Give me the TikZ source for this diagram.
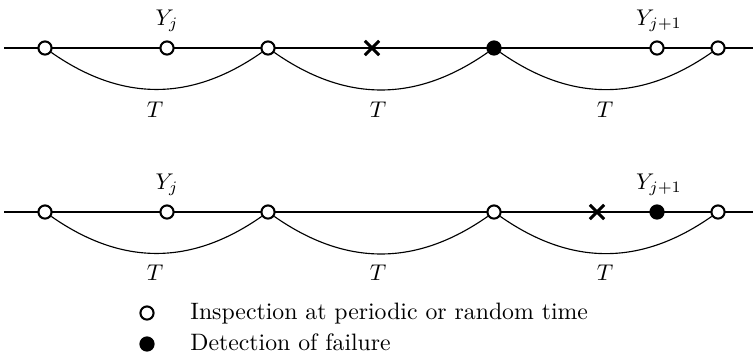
\documentclass[tikz,border=0pt]{standalone}
\usetikzlibrary{shapes.misc}
\tikzset{axis/.style={line width=1pt},span/.style={line width=.5pt},insp/.style={circle,draw,fill=white,line width=.9pt,inner sep=0pt,minimum size=5.8pt},detect/.style={insp,fill=black},fail/.style={cross out,draw,line width=1.3pt,inner sep=0pt,minimum size=5pt}}
\begin{document}
\begin{tikzpicture}[x=1in,y=-1in,font=\fontsize{10.45}{12.5}\selectfont]
\path[use as bounding box] (0,0) rectangle (4.58449,2.19179);
% upper time line
\coordinate (u0) at (0.02435,0.29224);
\coordinate (u9) at (4.58449,0.29224);
\draw[axis] (u0) -- (u9);
\node[insp] (u1) at (0.27397,0.29224) {};
\node[insp] (u2) at (1.01675,0.29224) {};
\node[insp] (u3) at (1.63166,0.29224) {};
\node[fail] (u4) at (2.26485,0.29224) {};
\node[detect] (u5) at (3.00762,0.29224) {};
\node[insp] (u6) at (4.00001,0.29224) {};
\node[insp] (u7) at (4.37140,0.29224) {};
\node[anchor=base] (uy1) at (1.01675,0.15221) {$Y_j$};
\node[anchor=base] (uy2) at (4.01219,0.15221) {$Y_{j+1}$};
\draw[span] (u1) to[out=-35,in=-145,looseness=1.05] (u3);
\draw[span] (u3) to[out=-35,in=-145,looseness=1.05] (u5);
\draw[span] (u5) to[out=-35,in=-145,looseness=1.05] (u7);
\node[anchor=base] (ut1) at (0.94369,0.71233) {$T$};
\node[anchor=base] (ut2) at (2.30138,0.71233) {$T$};
\node[anchor=base] (ut3) at (3.68342,0.71233) {$T$};
% lower time line
\coordinate (l0) at (0.02435,1.29072);
\coordinate (l9) at (4.58449,1.29072);
\draw[axis] (l0) -- (l9);
\node[insp] (l1) at (0.27397,1.29072) {};
\node[insp] (l2) at (1.01675,1.29072) {};
\node[insp] (l3) at (1.63166,1.29072) {};
\node[insp] (l4) at (3.00762,1.29072) {};
\node[fail] (l5) at (3.63472,1.29072) {};
\node[detect] (l6) at (4.00001,1.29072) {};
\node[insp] (l7) at (4.37140,1.29072) {};
\node[anchor=base] (ly1) at (1.01675,1.15069) {$Y_j$};
\node[anchor=base] (ly2) at (4.01219,1.15069) {$Y_{j+1}$};
\draw[span] (l1) to[out=-35,in=-145,looseness=1.05] (l3);
\draw[span] (l3) to[out=-35,in=-145,looseness=1.05] (l4);
\draw[span] (l4) to[out=-35,in=-145,looseness=1.05] (l7);
\node[anchor=base] (lt1) at (0.94369,1.70472) {$T$};
\node[anchor=base] (lt2) at (2.30138,1.70472) {$T$};
\node[anchor=base] (lt3) at (3.68342,1.70472) {$T$};
% legend
\node[insp] (k1) at (0.89498,1.90564) {};
\node[detect] (k2) at (0.89498,2.09438) {};
\node[anchor=base west,inner sep=0pt] (k1t) at (1.15678,1.94217) {Inspection at periodic or random time};
\node[anchor=base west,inner sep=0pt] (k2t) at (1.15678,2.13091) {Detection of failure};
\end{tikzpicture}
\end{document}
